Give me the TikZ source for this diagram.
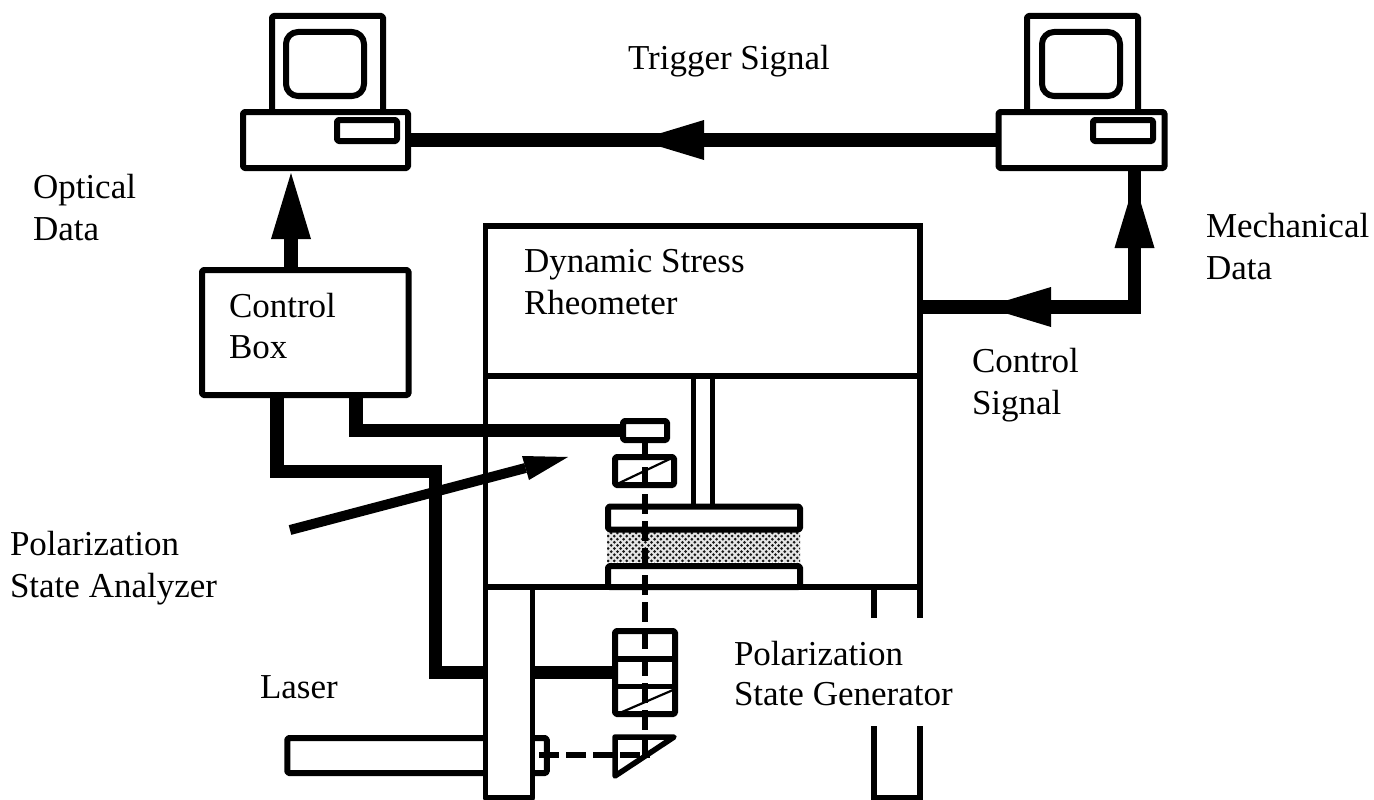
\documentclass[tikz,border=0pt]{standalone}
\usepackage{fontspec}
\setmainfont{Liberation Serif}
\usetikzlibrary{calc}
\tikzset{
  box/.style={draw=black,fill=white,line width=6pt,rounded corners=1.5pt,inner sep=0pt,outer sep=0pt,line join=round},
  openbox/.style={draw=black,line width=5.5pt,line join=miter},
  wire/.style={draw=black,line width=13.5pt,line join=miter},
  headfill/.style={fill=black},
  thin diag/.style={draw=black,line width=2.2pt},
  beam/.style={draw=black,line width=6pt,dash pattern=on 20pt off 7pt},
  label/.style={anchor=base west,inner sep=0pt,outer sep=0pt,font=\fontsize{35}{42}\selectfont}
}
\begin{document}
\begin{tikzpicture}[x=1pt,y=-1pt]
\useasboundingbox (0,0) rectangle (1374,800);
\fill[white] (0,0) rectangle (1374,800);

% computers
\node[box,minimum width=111pt,minimum height=110pt] (mon1) at (327.5,71) {};
\node[box,rounded corners=12pt,minimum width=78pt,minimum height=64pt] (scr1) at (325,64) {};
\node[box,minimum width=165pt,minimum height=56pt] (base1) at (325.5,140) {};
\node[box,minimum width=60pt,minimum height=21pt] (slot1) at (367,130.5) {};
\node[box,minimum width=111pt,minimum height=110pt] (mon2) at (1082.5,71) {};
\node[box,rounded corners=12pt,minimum width=78pt,minimum height=64pt] (scr2) at (1081,64) {};
\node[box,minimum width=166pt,minimum height=56pt] (base2) at (1081.5,140) {};
\node[box,minimum width=60pt,minimum height=21pt] (slot2) at (1123,130.5) {};

% rheometer housing
\coordinate (htl) at (485.5,226);
\coordinate (htr) at (920,226);
\coordinate (hml) at (485.5,376);
\coordinate (hmr) at (920,376);
\coordinate (hbl) at (485.5,587);
\coordinate (hbr) at (920,587);
\draw[openbox] (hbl) -- (htl) -- (htr) -- (hbr) -- cycle;
\draw[openbox] (hml) -- (hmr);
\draw[openbox] (hbr) -- (920,618);
\draw[openbox] (874,587) -- (874,618);
\draw[openbox] (874,726) -- (874,797.5) -- (920,797.5) -- (920,726);

% shaft
\draw[openbox] (693.5,376) -- (693.5,507);
\draw[openbox] (712.5,376) -- (712.5,507);

% sample
\begin{scope}
\clip (607,532) rectangle (800,562);
\fill[white!90!black] (607,532) rectangle (800,562);
\foreach \i in {0,...,32} \foreach \j in {0,...,10}
  \fill[black!90] ({605+\i*6.2+mod(\j,2)*3.1},{533+\j*3.1}) circle (1.5pt);
\end{scope}
\node[box,minimum width=192pt,minimum height=23pt] (plateU) at (704,518) {};
\node[box,minimum width=192pt,minimum height=21pt] (plateL) at (704,576.5) {};

% laser (column drawn over it)
\node[box,minimum width=259.5pt,minimum height=35pt] (laser) at (417,755.5) {};

% control box and wires
\node[box,minimum width=206.5pt,minimum height=125pt] (ctrl) at (305.25,332.5) {};
\coordinate (w1a) at (277,395);
\coordinate (w1b) at (277,471.5);
\coordinate (w1c) at (435.5,471.5);
\coordinate (w1d) at (435.5,672.5);
\node[box,minimum width=44pt,minimum height=19pt] (det) at (645,430.5) {};
\node[box,minimum width=60pt,minimum height=83pt] (psg) at (645,672.5) {};
\draw[wire] (w1a) -- (w1b) -- (w1c) -- (w1d) -- (psg.west |- w1d);
\coordinate (w2a) at (356,395);
\coordinate (w2b) at (356,430.5);
\draw[wire] (w2a) -- (w2b) -- (det.west);

% lower column
\node[box,rounded corners=0pt,line width=5.5pt,minimum width=47pt,minimum height=211pt] (col) at (509,692.5) {};

% top wires and arrows
\draw[wire] (base2.west) -- (base1.east);
\fill[headfill] (638,140) -- (704,120) -- (704,160) -- cycle;
\coordinate (ctop) at (291,173);
\coordinate (cbase) at (291,230);
\draw[wire] (ctrl.north -| ctop) -- (cbase);
\fill[headfill] (ctop) -- (311,239) -- (271,239) -- cycle;
\coordinate (mc) at (1134.5,307);
\draw[wire] (base2.south -| mc) -- (mc) -- (htr |- mc);
\fill[headfill] (1134.5,182) -- (1154.5,248) -- (1114.5,248) -- cycle;
\fill[headfill] (985,307) -- (1051,287) -- (1051,327) -- cycle;

% pointer arrow
\coordinate (pa) at (290,530);
\coordinate (pb) at (568,457);
\coordinate (pc) at (522,456);
\coordinate (pd) at (529,480);
\coordinate (pm) at (525.5,468);
\draw[draw=black,line width=10pt] (pa) -- (pm);
\fill[headfill] (pb) -- (pc) -- (pd) -- cycle;

% optics
\node[box,minimum width=59pt,minimum height=28pt] (pol) at (644.5,471) {};
\draw[thin diag] (pol.south west) -- (pol.north east);
\coordinate (d1) at (615,659);
\coordinate (d2) at (615,686.5);
\draw[openbox] (d1) -- (d1 -| psg.east);
\draw[openbox] (d2) -- (d2 -| psg.east);
\coordinate (diagA) at (622,712);
\coordinate (diagB) at (673,690);
\draw[thin diag] (diagA) -- (diagB);
\coordinate (prismC) at (645,755);
\coordinate (p1) at (615,737);
\coordinate (p2) at (674,737);
\coordinate (p3) at (615,776);
\draw[draw=black,line width=5.5pt,line join=round] (p1) -- (p2) -- (p3) -- cycle;
\draw[beam] (det.south) -- (prismC);
\coordinate (bl) at (539,755);
\coordinate (br) at (650,755);
\draw[beam] (bl) -- (br);

% labels
\node[label] (t1) at (628,70) {Trigger Signal};
\node[label] (t2) at (33,198) {Optical};
\node[label] (t3) at (33,240) {Data};
\node[label] (t4) at (524,272) {Dynamic Stress};
\node[label] (t5) at (524,314) {Rheometer};
\node[label] (t6) at (229,317) {Control};
\node[label] (t7) at (229,358) {Box};
\node[label] (t8) at (1206,237) {Mechanical};
\node[label] (t9) at (1206,279) {Data};
\node[label] (t10) at (972,372) {Control};
\node[label] (t11) at (972,414) {Signal};
\node[label] (t12) at (10,555) {Polarization};
\node[label] (t13) at (10,597) {State Analyzer};
\node[label] (t14) at (260,698) {Laser};
\node[label] (t15) at (734,665) {Polarization};
\node[label] (t16) at (734,705) {State Generator};
\end{tikzpicture}
\end{document}
